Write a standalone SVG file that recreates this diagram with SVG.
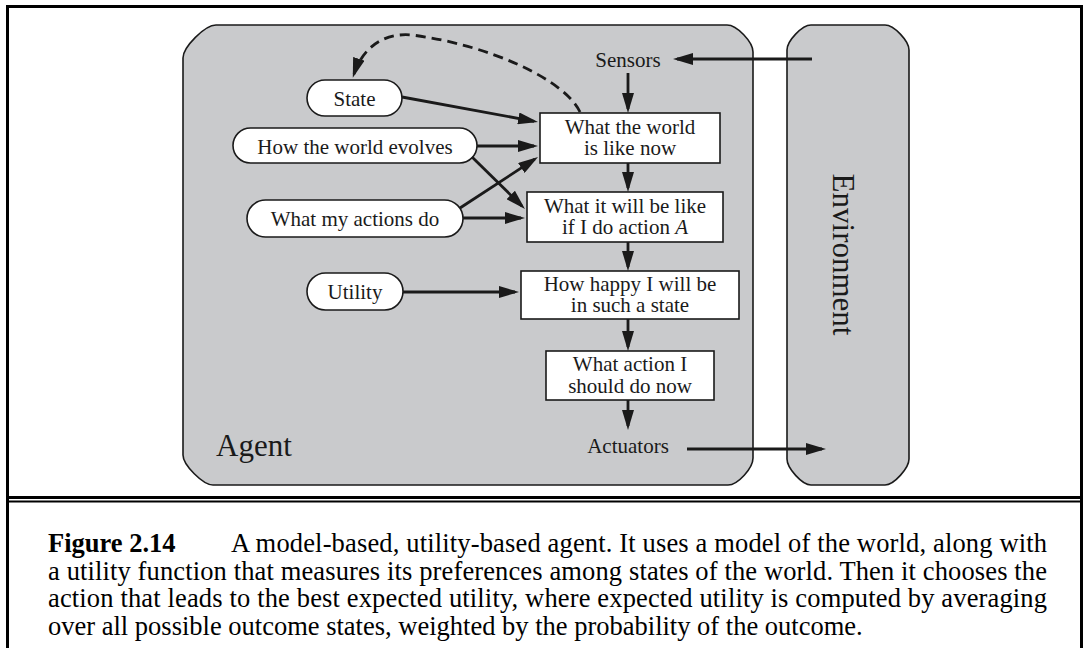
<svg xmlns="http://www.w3.org/2000/svg" width="1089" height="648" viewBox="0 0 1089 648">
<defs>
<marker id="ah" markerUnits="userSpaceOnUse" markerWidth="20" markerHeight="12" refX="16" refY="6" orient="auto">
<path d="M0,0 L20,6 L0,12 Z" fill="#1a1a1a"/>
</marker>
<style>
.frame{fill:none;stroke:#000;stroke-width:3}
.region{fill:#c9cacc;stroke:#1a1a1a;stroke-width:1.6}
.node{fill:#fff;stroke:#1a1a1a;stroke-width:1.6}
.t{font-family:"Liberation Serif","Times New Roman",serif;font-size:21px;fill:#1a1a1a;text-anchor:middle}
.big{font-family:"Liberation Serif","Times New Roman",serif;font-size:31px;fill:#1a1a1a}
.cap{font-family:"Liberation Serif","Times New Roman",serif;font-size:26.5px;fill:#000}
.e{fill:none;stroke:#1a1a1a;stroke-width:2.8;marker-end:url(#ah)}
.d{fill:none;stroke:#1a1a1a;stroke-width:2.8;stroke-dasharray:10 6;marker-end:url(#ah)}
</style>
</defs>
<rect x="0" y="0" width="1089" height="648" fill="#fff"/>
<g id="frame">
<rect class="frame" x="7.5" y="6.5" width="1074" height="491"/>
<line x1="6" y1="501.5" x2="1083" y2="501.5" stroke="#000" stroke-width="2.2"/>
<line x1="7.5" y1="497" x2="7.5" y2="650" stroke="#000" stroke-width="3"/>
<line x1="1081.5" y1="497" x2="1081.5" y2="650" stroke="#000" stroke-width="3"/>
</g>
<g id="agent">
<path class="region" d="M216,25 H727 C737,25 753,42 753,52 V458 C753,468 738,485 728,485 H213 C203,485 183,465 183,455 V58 C183,47 205,25 216,25 Z"/>
<text class="big" x="216" y="456">Agent</text>
</g>
<g id="environment">
<path class="region" d="M811,25 H885 C894,25 909,41 909,50 V459 C909,468 894,485 885,485 H811 C802,485 787,468 787,459 V50 C787,41 802,25 811,25 Z"/>
<text class="big" text-anchor="middle" transform="translate(833,254.5) rotate(90)" x="0" y="0">Environment</text>
</g>
<g id="sensors"><text class="t" x="628" y="67">Sensors</text></g>
<g id="actuators"><text class="t" x="628" y="453">Actuators</text></g>
<g id="state">
<rect class="node" x="307" y="80" width="95" height="36" rx="18"/>
<text class="t" x="354.5" y="106">State</text>
</g>
<g id="how-world-evolves">
<rect class="node" x="233" y="128" width="244" height="35" rx="17.5"/>
<text class="t" x="355" y="153.5">How the world evolves</text>
</g>
<g id="what-my-actions-do">
<rect class="node" x="247" y="200" width="216" height="37" rx="18.5"/>
<text class="t" x="355" y="226">What my actions do</text>
</g>
<g id="utility">
<rect class="node" x="307" y="273" width="96" height="37" rx="18.5"/>
<text class="t" x="355" y="299">Utility</text>
</g>
<g id="world-now">
<rect class="node" x="540" y="113" width="180" height="50"/>
<text class="t" x="630" y="133.5">What the world</text>
<text class="t" x="630" y="155">is like now</text>
</g>
<g id="will-be-like">
<rect class="node" x="527" y="192" width="196" height="50"/>
<text class="t" x="625" y="212.5">What it will be like</text>
<text class="t" x="625" y="234">if I do action <tspan font-style="italic">A</tspan></text>
</g>
<g id="how-happy">
<rect class="node" x="521" y="271" width="218" height="48"/>
<text class="t" x="630" y="291">How happy I will be</text>
<text class="t" x="630" y="312">in such a state</text>
</g>
<g id="what-action">
<rect class="node" x="546" y="351" width="168" height="49"/>
<text class="t" x="630" y="371">What action I</text>
<text class="t" x="630" y="392.5">should do now</text>
</g>
<g id="connectors">
<line class="e" x1="812" y1="59" x2="677" y2="59"/>
<line class="e" x1="628" y1="73" x2="628" y2="109"/>
<line class="e" x1="628" y1="163" x2="628" y2="188"/>
<line class="e" x1="628" y1="242" x2="628" y2="267"/>
<line class="e" x1="628" y1="319" x2="628" y2="347"/>
<line class="e" x1="628" y1="400" x2="628" y2="426"/>
<line class="e" x1="687" y1="449" x2="822" y2="449"/>
<line class="e" x1="402" y1="97" x2="534.1" y2="121.3"/>
<line class="e" x1="477" y1="146" x2="534" y2="146"/>
<line class="e" x1="472" y1="157" x2="522.1" y2="206.2"/>
<line class="e" x1="460" y1="208" x2="534.7" y2="159.2"/>
<line class="e" x1="463" y1="218" x2="521" y2="218"/>
<line class="e" x1="403" y1="292" x2="515" y2="292"/>
<path class="d" d="M580,112 C565,80 490,45 412,35 C380,32 361,52 354,74"/>
</g>
<g id="caption">
<text class="cap" x="48" y="552" font-weight="bold">Figure 2.14</text>
<text class="cap" x="231" y="552" textLength="816" lengthAdjust="spacing">A model-based, utility-based agent. It uses a model of the world, along with</text>
<text class="cap" x="48" y="579.5" textLength="999" lengthAdjust="spacing">a utility function that measures its preferences among states of the world. Then it chooses the</text>
<text class="cap" x="48" y="607" textLength="999" lengthAdjust="spacing">action that leads to the best expected utility, where expected utility is computed by averaging</text>
<text class="cap" x="48" y="634.5">over all possible outcome states, weighted by the probability of the outcome.</text>
</g>
</svg>
